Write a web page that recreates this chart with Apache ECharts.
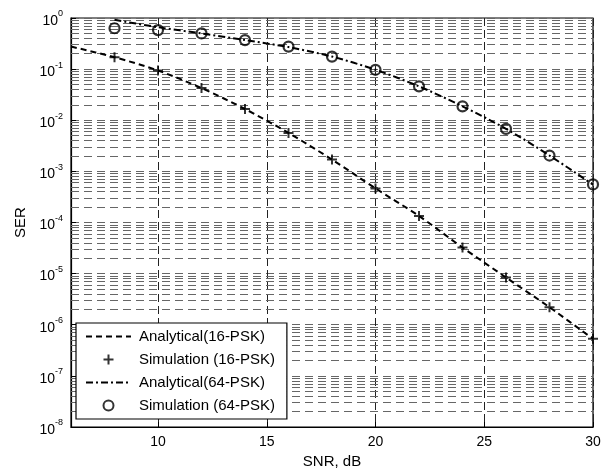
<!DOCTYPE html>
<html><head><meta charset="utf-8">
<script src="https://cdn.jsdelivr.net/npm/echarts@6/dist/echarts.min.js"></script>
<style>html,body{margin:0;padding:0;background:#fff}#c{width:611px;height:474px}</style>
</head><body><div id="c"></div>
<script>
// SNR (dB) and SER values
const snrAna16 = [6, 8, 10, 12, 14, 16, 18, 20, 22, 24, 26, 28, 30];
const serAna16 = [0.276, 0.171, 0.094, 0.0426, 0.0166, 0.00565, 0.0017, 4.65e-4, 1.34e-4, 3.24e-5, 8.4e-6, 2.2e-6, 5.3e-7];
const snrSim = [8, 10, 12, 14, 16, 18, 20, 22, 24, 26, 28, 30];
const serSim16 = [0.171, 0.094, 0.0426, 0.0166, 0.00565, 0.0017, 4.65e-4, 1.34e-4, 3.24e-5, 8.4e-6, 2.2e-6, 5.3e-7];
const snrAna64 = [8, 10, 12, 14, 16, 18, 20, 22, 24, 26, 28, 30];
const serAna64 = [0.92, 0.66, 0.50, 0.37, 0.27, 0.176, 0.097, 0.046, 0.0187, 0.0068, 0.00204, 5.5e-4];
const serSim64 = [0.63, 0.58, 0.50, 0.37, 0.276, 0.176, 0.097, 0.046, 0.0187, 0.0068, 0.00204, 5.56e-4];
const xRange = [6, 30];
const yDecades = [-8, -7, -6, -5, -4, -3, -2, -1];
const minorMult = [2, 3, 4, 5, 6, 7, 8, 9];
const seriesNames = ['Analytical(16-PSK)', 'Simulation (16-PSK)', 'Analytical(64-PSK)', 'Simulation (64-PSK)'];

const pair = (xs, ys) => xs.map((x, i) => [x, ys[i]]);
const minorLines = [];
yDecades.forEach(d => minorMult.forEach(m => {
  const v = m * Math.pow(10, d);
  minorLines.push({ coords: [[xRange[0], v], [xRange[1], v]] });
}));

const FONT = 'Liberation Sans, Arial, sans-serif';
const plusPath = 'path://M4,0H6V4H10V6H6V10H4V6H0V4H4Z';
const noSym = { color: 'rgba(0,0,0,0)', borderColor: 'rgba(0,0,0,0)', borderWidth: 0 };
const GRID_H = '#666';

const chart = echarts.init(document.getElementById('c'));
chart.setOption({
  animation: false,
  backgroundColor: '#fff',
  textStyle: { fontFamily: FONT },
  grid: { left: 71, right: 18, top: 18, bottom: 46, show: true, borderColor: '#000', borderWidth: 1.2, backgroundColor: 'transparent' },
  legend: {
    data: [
      { name: seriesNames[0], itemStyle: noSym },
      { name: seriesNames[1] },
      { name: seriesNames[2], itemStyle: noSym },
      { name: seriesNames[3] }
    ],
    orient: 'vertical',
    left: 76, top: 323,
    padding: [6, 12, 6, 9],
    itemWidth: 45, itemHeight: 10, itemGap: 8,
    backgroundColor: '#fff',
    borderColor: '#000', borderWidth: 1.2,
    borderRadius: 0,
    textStyle: { fontSize: 15, color: '#000', fontFamily: FONT, padding: [0, 0, 0, 3] }
  },
  xAxis: {
    type: 'value', min: xRange[0], max: xRange[1], splitNumber: 5,
    name: 'SNR, dB', nameLocation: 'middle', nameGap: 27,
    nameTextStyle: { fontSize: 15, color: '#000', fontFamily: FONT },
    axisLine: { lineStyle: { color: '#000', width: 1.2 } },
    axisTick: { inside: true, length: 5, lineStyle: { color: '#000' } },
    axisLabel: { fontSize: 14, color: '#000', margin: 8, showMinLabel: false, fontFamily: FONT },
    splitLine: { show: true, lineStyle: { color: '#222', type: [8, 4], width: 1 } }
  },
  yAxis: {
    type: 'log', logBase: 10, min: 1e-8, max: 1, splitNumber: 8,
    name: 'SER', nameLocation: 'middle', nameGap: 41,
    nameTextStyle: { fontSize: 15, color: '#000', fontFamily: FONT },
    axisLine: { lineStyle: { color: '#000', width: 1.2 } },
    axisTick: { inside: true, length: 5, lineStyle: { color: '#000' } },
    axisLabel: {
      color: '#000', margin: 8, fontFamily: FONT,
      formatter: v => '{b|10}{s|' + Math.round(Math.log10(v)) + '}',
      rich: {
        b: { fontSize: 14, color: '#000', fontFamily: FONT, padding: [6, 0, 0, 0] },
        s: { fontSize: 9, color: '#000', fontFamily: FONT, padding: [0, 0, 8, 0] }
      }
    },
    splitLine: { show: true, lineStyle: { color: GRID_H, type: [8, 5], width: 1 } }
  },
  series: [
    {
      name: 'grid-minor', type: 'lines', coordinateSystem: 'cartesian2d',
      silent: true, z: 1, polyline: false,
      lineStyle: { color: GRID_H, type: [8, 5], width: 1, opacity: 1 },
      data: minorLines
    },
    {
      name: seriesNames[0], type: 'line', data: pair(snrAna16, serAna16),
      symbol: 'none', smooth: 0.3, z: 3,
      lineStyle: { color: '#000', width: 2, type: [6, 4] },
      itemStyle: noSym
    },
    {
      name: seriesNames[1], type: 'scatter', data: pair(snrSim, serSim16),
      symbol: plusPath, symbolSize: 10, z: 4,
      itemStyle: { color: '#000' }
    },
    {
      name: seriesNames[2], type: 'line', data: pair(snrAna64, serAna64),
      symbol: 'none', smooth: 0.3, z: 3,
      lineStyle: { color: '#000', width: 2, type: [7, 3, 2, 3] },
      itemStyle: noSym
    },
    {
      name: seriesNames[3], type: 'scatter', data: pair(snrSim, serSim64),
      symbol: 'circle', symbolSize: 10, z: 4,
      itemStyle: { color: 'rgba(255,255,255,0)', borderColor: '#000', borderWidth: 2.2 }
    }
  ]
});
</script></body></html>
